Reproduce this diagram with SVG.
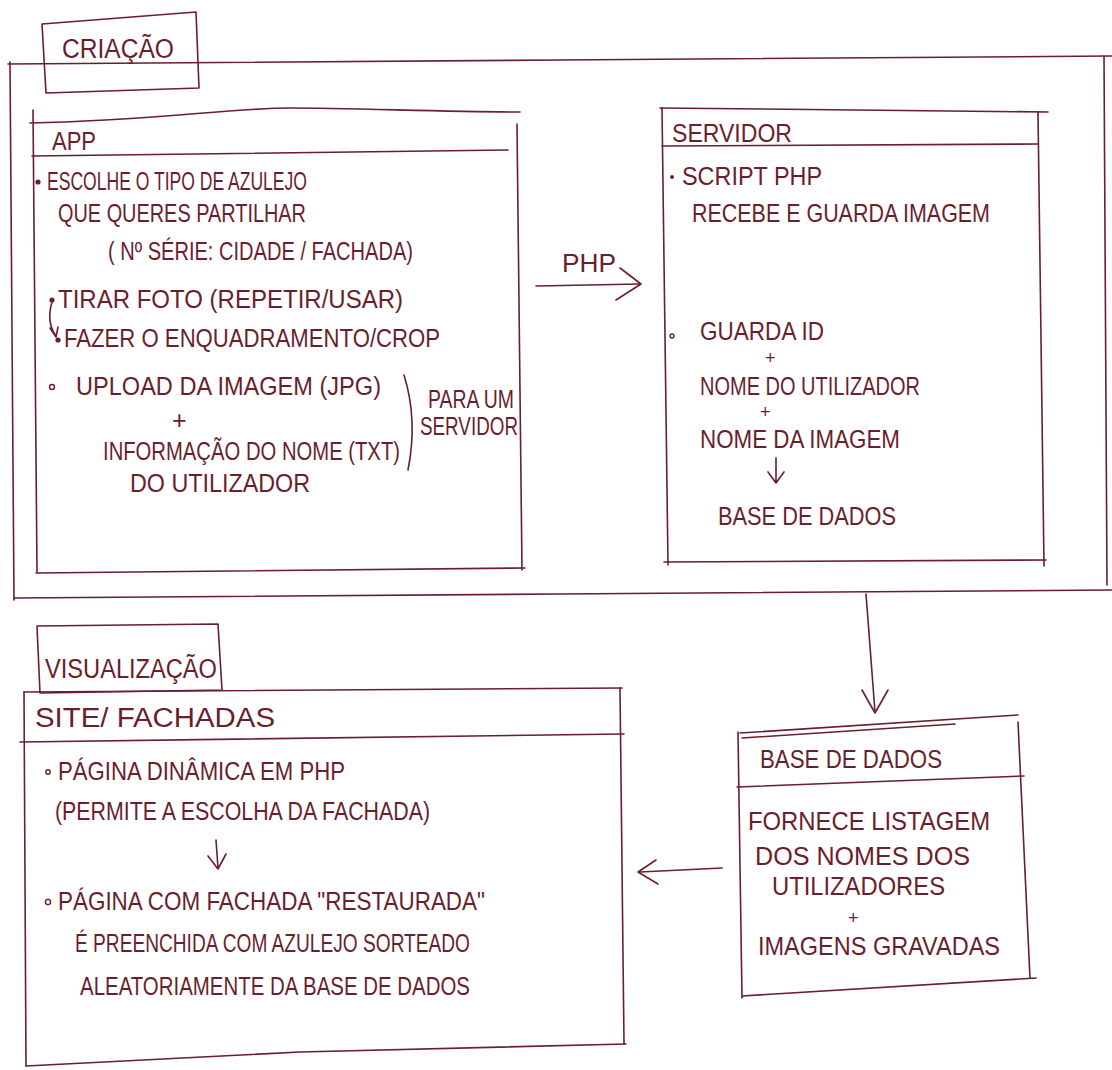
<svg xmlns="http://www.w3.org/2000/svg" width="1112" height="1070" viewBox="0 0 1112 1070">
<style>
.ln{fill:none;stroke:#6b1e2b;stroke-width:1.6;stroke-linecap:round;stroke-linejoin:round}
.t{font-family:"Liberation Sans","DejaVu Sans",sans-serif;fill:#6b1e2b;font-size:25px}
.h{font-size:27px}
.p{font-size:18px}
</style>
<rect width="1112" height="1070" fill="#ffffff"/>
<g id="criacao-frame">
<path class="ln" d="M8,64 L560,60 L1112,56"/>
<path class="ln" d="M10,62 L14,600"/>
<path class="ln" d="M14,598 L560,594 L1112,590"/>
<path class="ln" d="M1104,56 L1107,585"/>
</g>
<g id="criacao-label">
<path class="ln" d="M42,24 L196,12 L199,88 L46,93 Z"/>
<text class="t h" x="62" y="58" textLength="112" lengthAdjust="spacingAndGlyphs">CRIAÇÃO</text>
</g>
<g id="app">
<path class="ln" d="M30,123 C150,121 230,108 290,108 S450,112 520,112"/>
<path class="ln" d="M33,110 L37,572"/>
<path class="ln" d="M36,573 L525,568"/>
<path class="ln" d="M517,124 L522,570"/>
<path class="ln" d="M32,156 L508,150"/>
<text class="t" x="52" y="150" textLength="44" lengthAdjust="spacingAndGlyphs">APP</text>
<circle cx="38" cy="182" r="2.6" fill="#6b1e2b"/>
<text class="t" x="47" y="190" textLength="260" lengthAdjust="spacingAndGlyphs">ESCOLHE O TIPO DE AZULEJO</text>
<text class="t" x="58" y="222" textLength="248" lengthAdjust="spacingAndGlyphs">QUE QUERES PARTILHAR</text>
<text class="t" x="108" y="260" textLength="305" lengthAdjust="spacingAndGlyphs">( Nº SÉRIE: CIDADE / FACHADA)</text>
<circle cx="52" cy="300" r="2.6" fill="#6b1e2b"/>
<text class="t" x="58" y="308" textLength="345" lengthAdjust="spacingAndGlyphs">TIRAR FOTO (REPETIR/USAR)</text>
<path class="ln" d="M52,302 Q46,322 56,336 M50,328 L56,337 L58,327"/>
<circle cx="58" cy="340" r="2.6" fill="#6b1e2b"/>
<text class="t" x="64" y="347" textLength="376" lengthAdjust="spacingAndGlyphs">FAZER O ENQUADRAMENTO/CROP</text>
<circle cx="52" cy="387" r="2.5" fill="none" stroke="#6b1e2b" stroke-width="1.4"/>
<text class="t" x="76" y="395" textLength="305" lengthAdjust="spacingAndGlyphs">UPLOAD DA IMAGEM (JPG)</text>
<text class="t" x="172" y="429">+</text>
<text class="t" x="103" y="460" textLength="297" lengthAdjust="spacingAndGlyphs">INFORMAÇÃO DO NOME (TXT)</text>
<text class="t" x="130" y="492" textLength="180" lengthAdjust="spacingAndGlyphs">DO UTILIZADOR</text>
<path class="ln" d="M404,375 Q418,420 408,470"/>
<text class="t" x="428" y="408" textLength="86" lengthAdjust="spacingAndGlyphs">PARA UM</text>
<text class="t" x="420" y="435" textLength="98" lengthAdjust="spacingAndGlyphs">SERVIDOR</text>
</g>
<g id="servidor">
<path class="ln" d="M660,108 L1048,112"/>
<path class="ln" d="M662,108 L668,565"/>
<path class="ln" d="M662,146 L1038,144"/>
<path class="ln" d="M1038,112 L1044,566"/>
<path class="ln" d="M664,562 L1046,560"/>
<text class="t" x="672" y="142" textLength="120" lengthAdjust="spacingAndGlyphs">SERVIDOR</text>
<circle cx="672" cy="177" r="2" fill="#6b1e2b"/>
<text class="t" x="682" y="185" textLength="140" lengthAdjust="spacingAndGlyphs">SCRIPT PHP</text>
<text class="t" x="692" y="222" textLength="298" lengthAdjust="spacingAndGlyphs">RECEBE E GUARDA IMAGEM</text>
<circle cx="672" cy="336" r="2" fill="none" stroke="#6b1e2b" stroke-width="1.4"/>
<text class="t" x="700" y="340" textLength="124" lengthAdjust="spacingAndGlyphs">GUARDA ID</text>
<text class="t p" x="765" y="364">+</text>
<text class="t" x="700" y="395" textLength="220" lengthAdjust="spacingAndGlyphs">NOME DO UTILIZADOR</text>
<text class="t p" x="760" y="418">+</text>
<text class="t" x="700" y="448" textLength="200" lengthAdjust="spacingAndGlyphs">NOME DA IMAGEM</text>
<path class="ln" d="M776,458 L776,482 M768,472 L776,483 L784,472"/>
<text class="t" x="718" y="525" textLength="178" lengthAdjust="spacingAndGlyphs">BASE DE DADOS</text>
</g>
<g id="visualizacao-label">
<path class="ln" d="M37,626 L218,624 L222,690 L40,693 Z"/>
<text class="t h" x="45" y="678" textLength="172" lengthAdjust="spacingAndGlyphs">VISUALIZAÇÃO</text>
</g>
<g id="site-fachadas">
<path class="ln" d="M24,692 L622,688"/>
<path class="ln" d="M24,692 L26,1066"/>
<path class="ln" d="M20,742 L624,734"/>
<path class="ln" d="M620,688 L624,1044"/>
<path class="ln" d="M26,1066 L300,1052 L626,1044"/>
<text class="t h" x="35" y="727" textLength="240" lengthAdjust="spacingAndGlyphs">SITE/ FACHADAS</text>
<circle cx="48" cy="772" r="2.2" fill="none" stroke="#6b1e2b" stroke-width="1.4"/>
<text class="t" x="58" y="780" textLength="287" lengthAdjust="spacingAndGlyphs">PÁGINA DINÂMICA EM PHP</text>
<text class="t" x="55" y="820" textLength="375" lengthAdjust="spacingAndGlyphs">(PERMITE A ESCOLHA DA FACHADA)</text>
<path class="ln" d="M216,840 L218,868 M208,856 L218,869 L226,854"/>
<circle cx="48" cy="902" r="2.6" fill="none" stroke="#6b1e2b" stroke-width="1.4"/>
<text class="t" x="58" y="910" textLength="427" lengthAdjust="spacingAndGlyphs">PÁGINA COM FACHADA "RESTAURADA"</text>
<text class="t" x="75" y="952" textLength="395" lengthAdjust="spacingAndGlyphs">É PREENCHIDA COM AZULEJO SORTEADO</text>
<text class="t" x="80" y="995" textLength="390" lengthAdjust="spacingAndGlyphs">ALEATORIAMENTE DA BASE DE DADOS</text>
</g>
<g id="base-de-dados">
<path class="ln" d="M740,733 L1018,715"/>
<path class="ln" d="M742,738 L955,724"/>
<path class="ln" d="M738,732 L742,998"/>
<path class="ln" d="M737,787 L1024,776"/>
<path class="ln" d="M1018,722 L1030,978"/>
<path class="ln" d="M742,996 L1036,978"/>
<text class="t" x="760" y="768" textLength="182" lengthAdjust="spacingAndGlyphs">BASE DE DADOS</text>
<text class="t" x="748" y="830" textLength="242" lengthAdjust="spacingAndGlyphs">FORNECE LISTAGEM</text>
<text class="t" x="755" y="865" textLength="215" lengthAdjust="spacingAndGlyphs">DOS NOMES DOS</text>
<text class="t" x="772" y="895" textLength="173" lengthAdjust="spacingAndGlyphs">UTILIZADORES</text>
<text class="t p" x="848" y="924">+</text>
<text class="t" x="758" y="955" textLength="242" lengthAdjust="spacingAndGlyphs">IMAGENS GRAVADAS</text>
</g>
<g id="connectors">
<path class="ln" d="M536,286 L640,284"/>
<path class="ln" d="M620,268 L641,284 L616,300"/>
<text class="t" x="562" y="272" textLength="54" lengthAdjust="spacingAndGlyphs">PHP</text>
<path class="ln" d="M866,594 L875,712"/>
<path class="ln" d="M862,690 L875,713 L888,690"/>
<path class="ln" d="M722,868 L640,872"/>
<path class="ln" d="M656,860 L638,872 L658,884"/>
</g>
</svg>
